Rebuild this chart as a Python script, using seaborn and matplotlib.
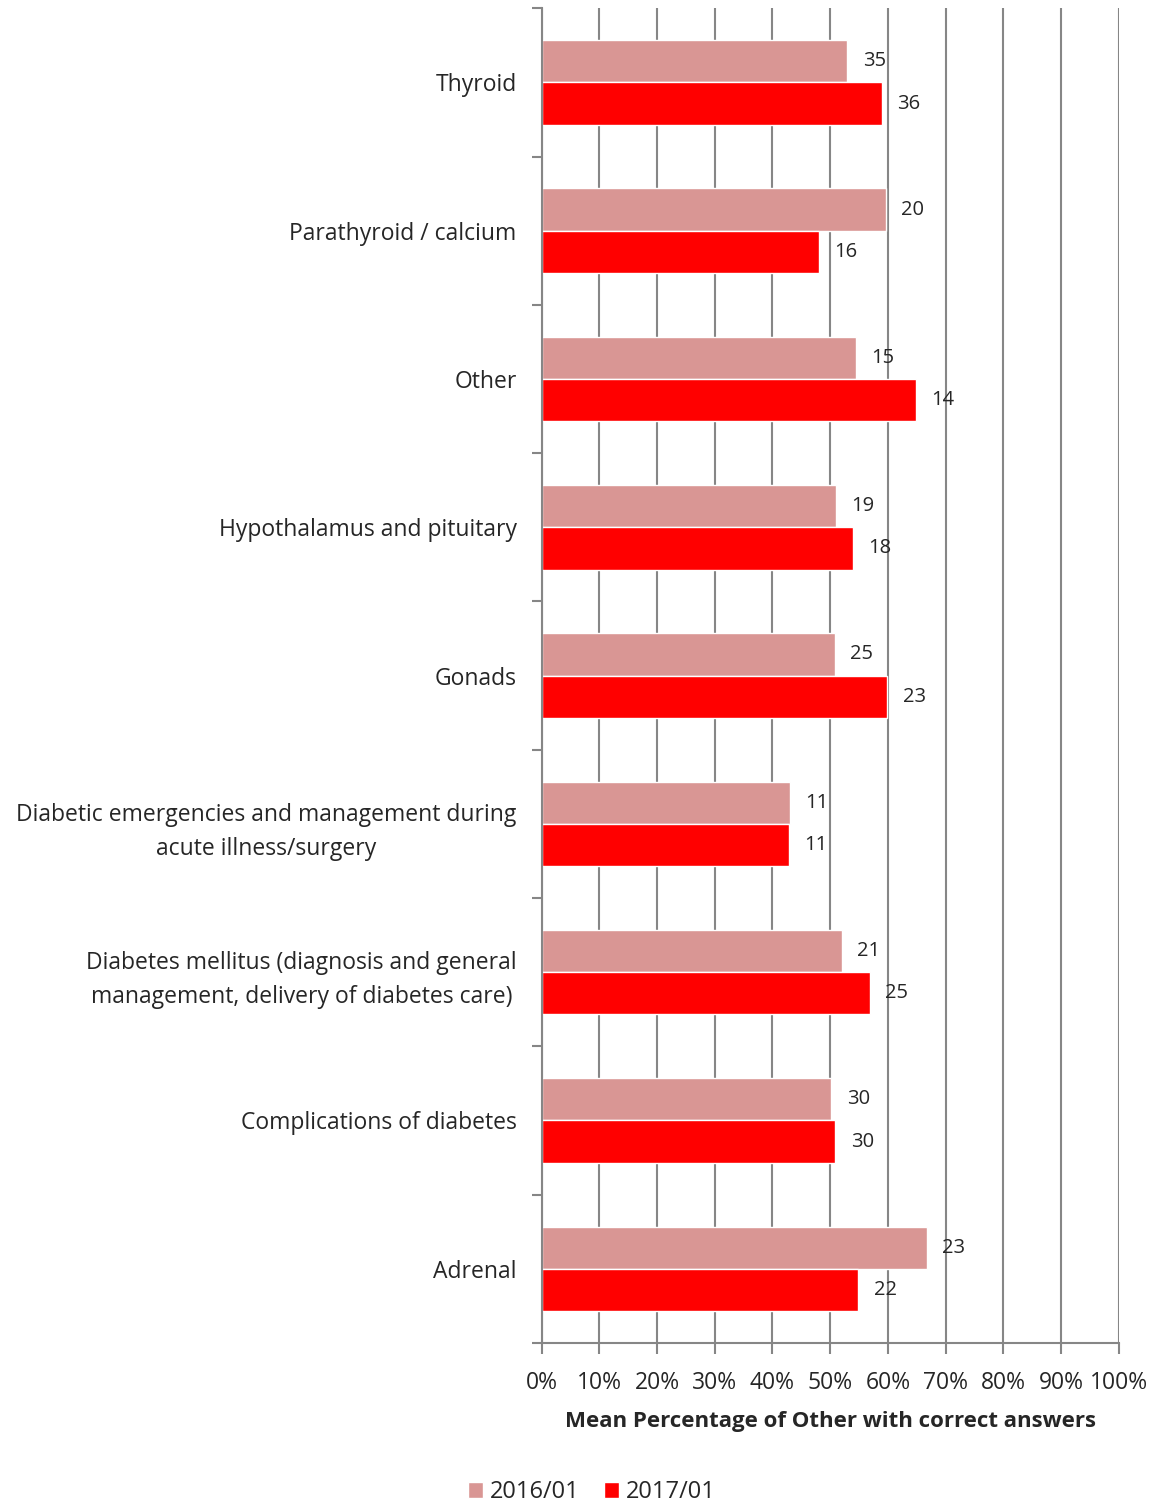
import pandas as pd
import matplotlib.pyplot as plt
import seaborn as sns
from matplotlib.ticker import MultipleLocator, PercentFormatter

# Data
categories = [
    "Thyroid",
    "Parathyroid / calcium",
    "Other",
    "Hypothalamus and pituitary",
    "Gonads",
    "Diabetic emergencies and management during\nacute illness/surgery",
    "Diabetes mellitus (diagnosis and general\nmanagement, delivery of diabetes care)",
    "Complications of diabetes",
    "Adrenal",
]
pct_2016 = [53.0, 59.6, 54.4, 51.0, 50.8, 43.0, 52.0, 50.2, 66.7]
pct_2017 = [58.9, 48.0, 64.9, 53.9, 59.9, 42.9, 56.9, 50.9, 54.9]
n_2016 = [35, 20, 15, 19, 25, 11, 21, 30, 23]
n_2017 = [36, 16, 14, 18, 23, 11, 25, 30, 22]
series = ["2016/01", "2017/01"]

df = pd.DataFrame({
    "Category": categories * 2,
    "Percent": pct_2016 + pct_2017,
    "Series": [series[0]] * len(categories) + [series[1]] * len(categories),
})

sns.set_style("white")
plt.rcParams["font.family"] = ["Open Sans", "DejaVu Sans"]

fig = plt.figure(figsize=(11.55, 15.03), dpi=100)
ax = fig.add_axes([0.469, 0.1065, 0.4995, 0.888])

grid_col = "#868686"
ax.set_xlim(0, 100)
ax.xaxis.set_major_locator(MultipleLocator(10))
ax.xaxis.set_major_formatter(PercentFormatter(decimals=0))
ax.grid(axis="x", color=grid_col, linewidth=1.5, zorder=0)
ax.set_axisbelow(True)

sns.barplot(data=df, y="Category", x="Percent", hue="Series", order=categories,
            hue_order=series, palette=["#D99694", "#FF0000"], width=0.57,
            orient="h", saturation=1, ax=ax, legend=True)

for cont, labels in zip(ax.containers, [n_2016, n_2017]):
    ax.bar_label(cont, labels=[str(v) for v in labels], padding=11, fontsize=14.5)

ax.set_ylim(len(categories) - 0.5, -0.5)
ax.set_ylabel("")
ax.set_xlabel("Mean Percentage of Other with correct answers",
              fontsize=16, fontweight="bold", labelpad=12)

for side in ["top", "right"]:
    ax.spines[side].set_visible(False)
for side in ["left", "bottom"]:
    ax.spines[side].set_color(grid_col)
    ax.spines[side].set_linewidth(1.5)

ax.tick_params(axis="x", direction="out", length=8, width=1.5, color=grid_col,
               labelsize=16.5, pad=12, bottom=True)
ax.tick_params(axis="y", which="major", length=0, labelsize=16.5, pad=18)
ax.set_yticks([i + 0.5 for i in range(-1, len(categories))], minor=True)
ax.tick_params(axis="y", which="minor", direction="out", length=7, width=1.5,
               color=grid_col, left=True)
for lab in ax.get_yticklabels():
    lab.set_multialignment("center")
    lab.set_linespacing(1.55)

ax.legend(loc="upper center", bbox_to_anchor=(0.087, -0.0905), ncol=2, frameon=False,
          fontsize=17, handlelength=0.65, handleheight=0.65, handletextpad=0.3,
          columnspacing=1.0, borderpad=0.2)

fig.savefig("out.png", dpi=100)
